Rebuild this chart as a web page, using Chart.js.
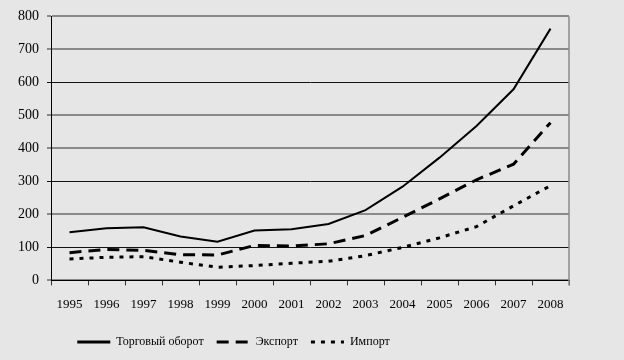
<!DOCTYPE html>
<html>
<head>
<meta charset="utf-8">
<script src="https://cdn.jsdelivr.net/npm/chart.js@4/dist/chart.umd.min.js"></script>
<style>
  html, body { margin: 0; padding: 0; background: #e6e6e6; }
  #wrap { width: 624px; height: 360px; position: relative; }
</style>
</head>
<body>
<div id="wrap"><canvas id="tradeChart"></canvas></div>
<script>
const years = ["1995", "1996", "1997", "1998", "1999", "2000", "2001", "2002", "2003", "2004", "2005", "2006", "2007", "2008"]
const turnover = [146, 158, 161, 133, 117, 151, 155, 171, 213, 284, 372, 468, 579, 763]
const exports = [84, 94, 91, 78, 77, 106, 104, 111, 136, 191, 247, 305, 352, 478]
const imports = [65, 70, 72, 55, 40, 45, 52, 58, 75, 100, 129, 163, 226, 287]
const yTicks = [0, 100, 200, 300, 400, 500, 600, 700, 800]

const darkGrid = [100, 300, 600]

// right-hand frame line and legend shift
const framePlugin = {
  id: 'frame',
  afterLayout(chart) {
    const lg = chart.legend
    if (lg) {
      lg.right = lg.right - 112
    }
  },
  afterDatasetsDraw(chart) {
    const a = chart.chartArea
    const ctx = chart.ctx
    ctx.save()
    ctx.strokeStyle = '#8a8a8a'
    ctx.lineWidth = 1.5
    ctx.beginPath()
    ctx.moveTo(a.right, a.top)
    ctx.lineTo(a.right, a.bottom + 5)
    ctx.stroke()
    ctx.restore()
  }
}

const data1 = {
  labels: years,
  datasets: [{
    label: 'Торговый оборот',
    data: turnover,
    borderColor: '#000',
    backgroundColor: '#000',
    borderWidth: 2,
    pointRadius: 0,
    tension: 0
  }, {
    label: 'Экспорт',
    data: exports,
    borderColor: '#000',
    backgroundColor: '#000',
    borderWidth: 3,
    borderDash: [12, 7],
    pointRadius: 0,
    tension: 0
  }, {
    label: 'Импорт',
    data: imports,
    borderColor: '#000',
    backgroundColor: '#000',
    borderWidth: 3,
    borderDash: [4, 6],
    pointRadius: 0,
    tension: 0
  }]
};

const config1 = {
  type: 'line',
  data: data1,
  options: {
    animation: false,
    responsive: true,
    maintainAspectRatio: false,
    layout: {
      padding: { left: 10, right: 55, top: 7, bottom: 2 }
    },
    scales: {
      x: {
        offset: true,
        grid: {
          offset: true,
          drawOnChartArea: false,
          drawTicks: true,
          tickLength: 5,
          color: '#333'
        },
        border: { color: '#000', width: 1 },
        ticks: {
          color: '#000',
          padding: 11,
          maxRotation: 0,
          autoSkip: false,
          font: { family: 'Liberation Serif', size: 13 }
        }
      },
      y: {
        min: 0,
        max: 800,
        afterBuildTicks: (axis) => {
          axis.ticks = yTicks.map(v => ({ value: v }))
        },
        grid: {
          tickLength: 4,
          color: (c) => darkGrid.includes(c.tick && c.tick.value) ? '#111' : '#8a8a8a',
          lineWidth: (c) => darkGrid.includes(c.tick && c.tick.value) ? 1 : 2
        },
        border: { color: '#000', width: 1 },
        ticks: {
          color: '#000',
          padding: 8,
          font: { family: 'Liberation Serif', size: 14 }
        }
      }
    },
    plugins: {
      title: { display: false },
      tooltip: { enabled: false },
      legend: {
        display: true,
        position: 'bottom',
        labels: {
          usePointStyle: true,
          pointStyle: 'line',
          pointStyleWidth: 33,
          color: '#000',
          padding: 13,
          font: { family: 'Liberation Serif', size: 12 },
          generateLabels: (chart) => {
            const items = Chart.defaults.plugins.legend.labels.generateLabels(chart)
            return items.map((item, i) => {
              const ds = chart.data.datasets[i]
              item.lineDash = ds.borderDash || []
              item.lineWidth = 3
              item.pointStyle = 'line'
              return item
            })
          }
        }
      }
    }
  },
  plugins: [framePlugin]
};

var myChart1 = new Chart(
  document.getElementById('tradeChart'),
  config1
);
</script>
</body>
</html>
